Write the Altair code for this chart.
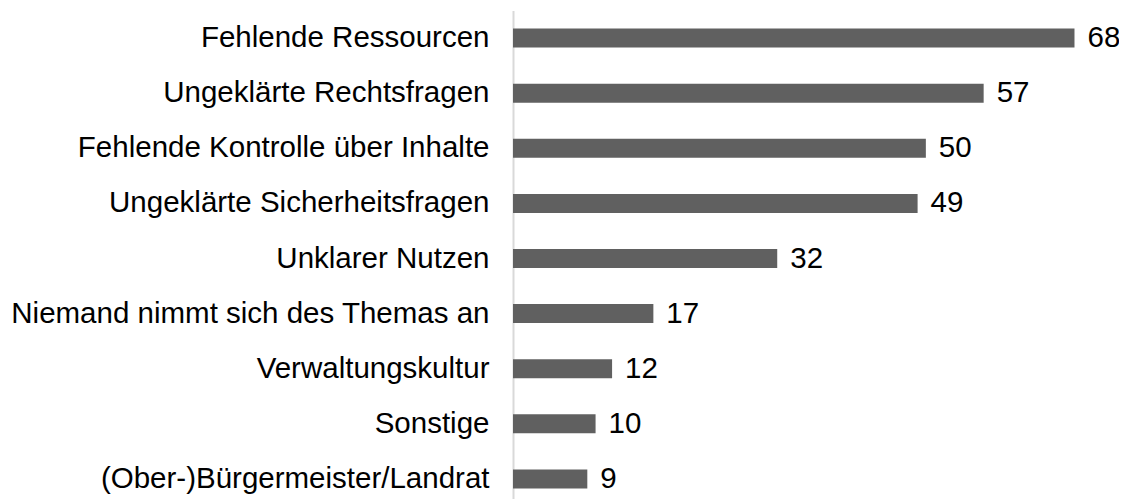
import altair as alt
import pandas as pd

categories = [
    "Fehlende Ressourcen",
    "Ungeklärte Rechtsfragen",
    "Fehlende Kontrolle über Inhalte",
    "Ungeklärte Sicherheitsfragen",
    "Unklarer Nutzen",
    "Niemand nimmt sich des Themas an",
    "Verwaltungskultur",
    "Sonstige",
    "(Ober-)Bürgermeister/Landrat",
]
values = [68, 57, 50, 49, 32, 17, 12, 10, 9]

df = pd.DataFrame({"cat": categories, "val": values})

FONT = "Liberation Sans"
FS = 29.5

y = alt.Y(
    "cat:N",
    sort=categories,
    title=None,
    scale=alt.Scale(paddingInner=0.655, paddingOuter=0.3275),
    axis=alt.Axis(
        labelFont=FONT,
        labelFontSize=FS,
        labelColor="#000000",
        labelPadding=24,
        ticks=False,
        domain=True,
        domainColor="#d9d9d9",
        domainWidth=2,
        grid=False,
        labelLimit=600,
    ),
)
x = alt.X("val:Q", scale=alt.Scale(domain=[0, 70]), axis=None)

bars = alt.Chart(df).mark_bar(color="#606060").encode(x=x, y=y)
text = alt.Chart(df).mark_text(
    align="left", baseline="middle", dx=13, font=FONT, fontSize=FS, color="#000000"
).encode(x=x, y=alt.Y("cat:N", sort=categories), text="val:Q")

chart = (
    alt.layer(bars, text)
    .properties(
        width=578,
        height=496,
        autosize=alt.AutoSizeParams(type="none"),
        padding={"left": 505, "top": 2.5, "right": 28, "bottom": 0},
    )
    .configure_view(stroke=None)
)

chart.save("out.html", embed_options={"renderer": "svg", "actions": False})
